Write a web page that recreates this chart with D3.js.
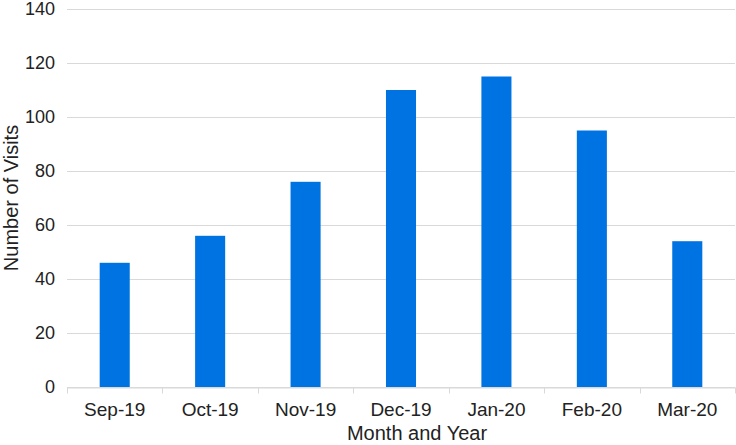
<!DOCTYPE html>
<html>
<head>
<meta charset="utf-8">
<script src="https://cdn.jsdelivr.net/npm/d3@7"></script>
<style>
  body { margin: 0; background: #fff; }
  svg { display: block; font-family: "Liberation Sans", Arial, sans-serif; }
</style>
</head>
<body>
<div id="chart"></div>
<script>
const months = ["Sep-19", "Oct-19", "Nov-19", "Dec-19", "Jan-20", "Feb-20", "Mar-20"];
const visits = [46, 56, 76, 110, 115, 95, 54];
const yTicks = [0, 20, 40, 60, 80, 100, 120, 140];

const width = 736;
const height = 445;
const margin = { top: 9, right: 1, bottom: 58, left: 67 };

const barColor = "#0073e2";
const gridColor = "#d9d9d9";

const svg = d3.select("#chart")
  .append("svg")
  .attr("width", width)
  .attr("height", height);

const x = d3.scaleBand()
  .domain(months)
  .range([margin.left, width - margin.right])
  .padding(0);

const y = d3.scaleLinear()
  .domain([0, 140])
  .range([height - margin.bottom, margin.top]);

// gridlines
svg.append("g")
  .selectAll("line")
  .data(yTicks)
  .enter()
  .append("line")
  .attr("x1", margin.left)
  .attr("x2", width - margin.right)
  .attr("y1", d => y(d) + 0.5)
  .attr("y2", d => y(d) + 0.5)
  .attr("stroke", gridColor)
  .attr("stroke-width", 1);

// y tick labels
svg.append("g")
  .selectAll("text")
  .data(yTicks)
  .enter()
  .append("text")
  .attr("x", 55)
  .attr("y", d => y(d))
  .attr("dy", "0.35em")
  .attr("text-anchor", "end")
  .style("font-size", "18px")
  .attr("fill", "#222")
  .text(d => d);

// bars
const barW = x.step() * 0.315;
svg.append("g")
  .selectAll("rect")
  .data(visits)
  .enter()
  .append("rect")
  .attr("x", (d, i) => x(months[i]) + (x.bandwidth() - barW) / 2)
  .attr("y", d => y(d))
  .attr("width", barW)
  .attr("height", d => y(0) - y(d))
  .attr("fill", barColor);

// x axis
const xaxis = d3.axisBottom(x).tickSize(0).tickPadding(15);
const gx = svg.append("g")
  .attr("transform", "translate(0," + (y(0) + 0.5) + ")")
  .call(xaxis);
gx.select(".domain").attr("stroke", gridColor);
gx.selectAll("text")
  .style("font-size", "19px")
  .attr("fill", "#222")
  .attr("font-family", "Liberation Sans, Arial, sans-serif");

// boundary ticks between categories
const bounds = months.map(m => x(m)).concat([x.range()[1]]);
gx.selectAll(".bound")
  .data(bounds)
  .enter()
  .append("line")
  .attr("class", "bound")
  .attr("x1", d => Math.round(d) + 0.5)
  .attr("x2", d => Math.round(d) + 0.5)
  .attr("y1", 0)
  .attr("y2", 6)
  .attr("stroke", gridColor);

// axis titles
svg.append("text")
  .attr("x", margin.left + (width - margin.right - margin.left) / 2 + 16)
  .attr("y", 440)
  .attr("text-anchor", "middle")
  .style("font-size", "20px")
  .attr("fill", "#222")
  .text("Month and Year");

svg.append("text")
  .attr("transform", "translate(18," + (margin.top + (height - margin.bottom - margin.top) / 2) + ") rotate(-90)")
  .attr("text-anchor", "middle")
  .style("font-size", "20px")
  .attr("fill", "#222")
  .text("Number of Visits");
</script>
</body>
</html>
